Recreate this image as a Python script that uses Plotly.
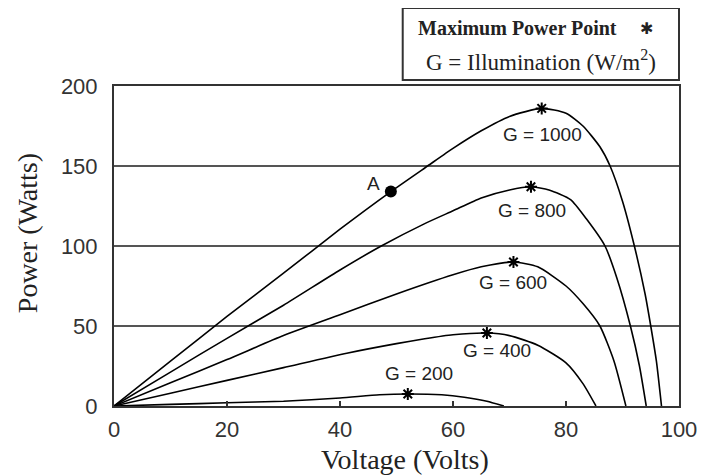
import plotly.graph_objects as go

# ---- data ----
v_1000 = [0, 10, 20, 30, 40, 49, 55.5, 60, 65, 70, 75.7, 80, 83, 86, 87.8, 90, 92.1, 94, 95, 96, 96.9]
p_1000 = [0, 28, 56, 83, 110.5, 134, 150, 161, 172, 181, 186, 183, 175, 162, 150, 128, 100, 70, 50, 28, 0]

v_800 = [0, 10, 20, 30, 40, 47.3, 55, 60, 65, 70, 73.8, 77, 80.8, 83.6, 86.9, 89, 91.4, 93, 94.2]
p_800 = [0, 21.2, 42.3, 63, 85, 100, 114, 122, 130, 135, 137, 135, 129, 117, 100, 80, 50, 25, 0]

v_600 = [0, 10, 20, 30, 40, 50, 60, 65, 70.7, 75, 80, 83, 86, 88.5, 90.6]
p_600 = [0, 14.6, 29, 44, 57, 70, 82, 87, 90, 87, 75, 64, 50, 28, 0]

v_400 = [0, 10, 20, 30, 41.2, 50, 55, 60, 66, 70, 75, 80, 83, 85.3]
p_400 = [0, 8, 16, 24, 33, 39, 42, 44.5, 45.6, 44, 38, 27, 14, 0]

v_200 = [0, 10, 20, 30, 40, 47, 52, 58, 62, 66, 69]
p_200 = [0, 1, 2, 3, 5, 7, 7.5, 7, 5.5, 3, 0]

mpp_v = [52, 66, 70.7, 73.8, 75.7]
mpp_p = [7.5, 45.6, 90, 137, 186]

point_a_v = [49]
point_a_p = [134]

curve_labels = ["G = 1000", "G = 800", "G = 600", "G = 400", "G = 200"]
label_v = [75.9, 73.9, 70.7, 67.8, 53.9]
label_p = [169.5, 122.5, 77.5, 35, 20.6]

x_ticks = [0, 20, 40, 60, 80, 100]
y_ticks = [0, 50, 100, 150, 200]

# ---- figure ----
fig = go.Figure()
for v, p in [(v_1000, p_1000), (v_800, p_800), (v_600, p_600), (v_400, p_400), (v_200, p_200)]:
    fig.add_trace(go.Scatter(x=v, y=p, mode="lines",
                             line=dict(color="black", width=1.6, shape="spline", smoothing=0.6),
                             showlegend=False, hoverinfo="skip"))

fig.add_trace(go.Scatter(x=mpp_v, y=mpp_p, mode="markers",
                         marker=dict(symbol="asterisk-open", size=10, color="black",
                                     line=dict(color="black", width=2)),
                         showlegend=False))
fig.add_trace(go.Scatter(x=point_a_v, y=point_a_p, mode="markers",
                         marker=dict(symbol="circle", size=12, color="black"),
                         showlegend=False))

C = dict(xanchor="center", yanchor="middle", showarrow=False)
annotations = []
for t, x, y in zip(curve_labels, label_v, label_p):
    annotations.append(dict(x=x, y=y, xref="x", yref="y", text=t, **C,
                            font=dict(family="Liberation Sans", size=19, color="#222")))
annotations.append(dict(x=45.9, y=139, xref="x", yref="y", text="A", **C,
                        font=dict(family="Liberation Sans", size=19, color="#222")))
# axis titles
annotations.append(dict(x=0.515, y=-0.166, xref="paper", yref="paper", text="Voltage (Volts)", **C,
                        font=dict(family="Liberation Serif", size=28, color="#222")))
annotations.append(dict(x=-0.154, y=0.54, xref="paper", yref="paper", text="Power (Watts)",
                        textangle=-90, **C,
                        font=dict(family="Liberation Serif", size=28, color="#222")))
# legend box text
annotations.append(dict(x=0.715, y=1.181, xref="paper", yref="paper", text="<b>Maximum Power Point</b>", **C,
                        font=dict(family="Liberation Serif", size=20, color="#222")))
annotations.append(dict(x=0.942, y=1.181, xref="paper", yref="paper", text="✱", **C,
                        font=dict(family="DejaVu Sans", size=16, color="#222")))
annotations.append(dict(x=0.755, y=1.081, xref="paper", yref="paper",
                        text="G = Illumination (W/m<sup>2</sup>)", **C,
                        font=dict(family="Liberation Serif", size=23, color="#222")))

shapes = [dict(type="rect", xref="paper", yref="paper", x0=0.511, x1=1.0, y0=1.019, y1=1.244,
               line=dict(color="#333", width=2), fillcolor="rgba(0,0,0,0)", layer="above")]

fig.update_layout(
    width=701, height=467,
    margin=dict(l=106, r=22, t=78, b=69),
    paper_bgcolor="white", plot_bgcolor="white",
    annotations=annotations, shapes=shapes,
    xaxis=dict(range=[0, 100], tickvals=x_ticks, ticks="inside", ticklen=5, tickwidth=1.5,
               tickcolor="#333", showgrid=False, zeroline=False,
               showline=True, mirror=True, linecolor="#333", linewidth=2,
               tickfont=dict(family="Liberation Sans", size=22, color="#333"),
               ticklabelstandoff=3),
    yaxis=dict(range=[0, 200], tickvals=y_ticks, ticks="", showgrid=True,
               gridcolor="#555", gridwidth=2, zeroline=False,
               showline=True, mirror=True, linecolor="#333", linewidth=2,
               tickfont=dict(family="Liberation Sans", size=22, color="#333"),
               ticklabelstandoff=10),
)

fig.write_html("out.html")
